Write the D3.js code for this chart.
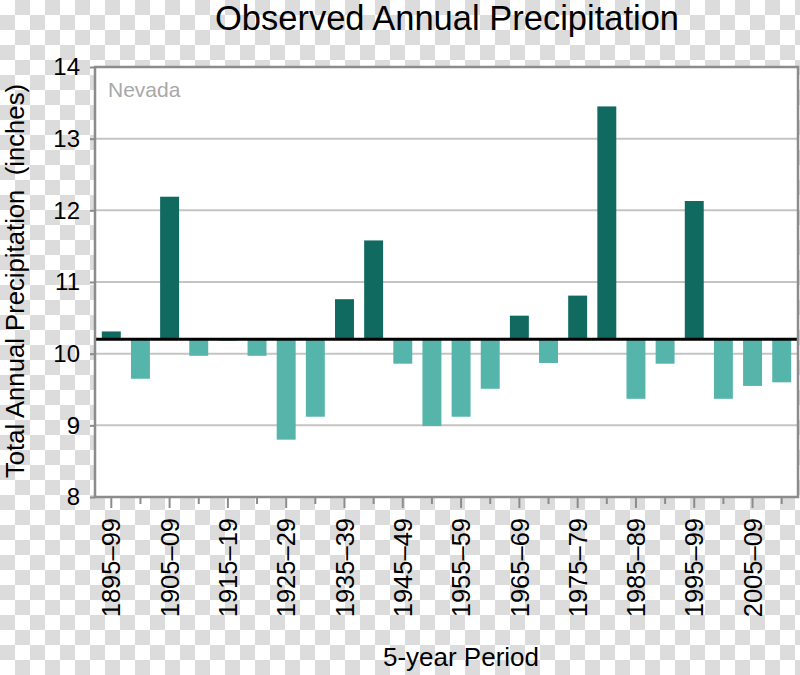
<!DOCTYPE html>
<html>
<head>
<meta charset="utf-8">
<script src="https://cdn.jsdelivr.net/npm/d3@7"></script>
<style>
  html, body { margin: 0; padding: 0; background: #fff; }
  svg { display: block; font-family: "Liberation Sans", Arial, sans-serif; }
  svg text { font-family: "Liberation Sans", Arial, sans-serif; }
</style>
</head>
<body>
<svg id="chart" width="800" height="675"></svg>
<script>
// ---- data ----
const periods = ["1895–99","1900–04","1905–09","1910–14","1915–19","1920–24","1925–29","1930–34",
                 "1935–39","1940–44","1945–49","1950–54","1955–59","1960–64","1965–69","1970–74",
                 "1975–79","1980–84","1985–89","1990–94","1995–99","2000–04","2005–09","2010–14"];
const precipitation = [10.31, 9.65, 12.19, 9.97, 10.18, 9.97, 8.80, 9.12,
                       10.76, 11.58, 9.86, 8.99, 9.12, 9.51, 10.53, 9.87,
                       10.81, 13.45, 9.37, 9.86, 12.13, 9.37, 9.55, 9.60];
const baselineValue = [10.2];
const yTicks = [8, 9, 10, 11, 12, 13, 14];
const labeledPeriods = periods.filter((d, i) => i % 2 === 0);
const titleText = ["Observed Annual Precipitation"];
const regionText = ["Nevada"];

// ---- layout ----
const svg = d3.select("#chart");
const W = 800, H = 675;
const plot = { left: 95, right: 798, top: 67, bottom: 497 };

// checkerboard background (transparent look)
const defs = svg.append("defs");
const pat = defs.append("pattern").attr("id", "checker")
  .attr("width", 30).attr("height", 30).attr("patternUnits", "userSpaceOnUse");
pat.append("rect").attr("width", 30).attr("height", 30).attr("fill", "#ffffff");
pat.append("rect").attr("x", 15).attr("y", 0).attr("width", 15).attr("height", 15).attr("fill", "#dcdcdc");
pat.append("rect").attr("x", 0).attr("y", 15).attr("width", 15).attr("height", 15).attr("fill", "#dcdcdc");
svg.append("rect").attr("width", W).attr("height", H).attr("fill", "url(#checker)");

const x = d3.scaleBand().domain(periods).range([96, 797]).paddingInner(0.35).paddingOuter(0.2);
const y = d3.scaleLinear().domain([8, 14]).range([plot.bottom, plot.top]);

// plot area
svg.append("rect")
  .attr("x", plot.left).attr("y", plot.top)
  .attr("width", plot.right - plot.left).attr("height", plot.bottom - plot.top)
  .attr("fill", "#ffffff");

// gridlines
svg.append("g").selectAll("line").data(yTicks.filter(t => t > 8 && t < 14)).join("line")
  .attr("x1", plot.left).attr("x2", plot.right)
  .attr("y1", d => y(d)).attr("y2", d => y(d))
  .attr("stroke", "#c4c4c4").attr("stroke-width", 2);

// bars
const base = baselineValue[0];
svg.append("g").selectAll("rect").data(precipitation).join("rect")
  .attr("x", (d, i) => x(periods[i]))
  .attr("width", x.bandwidth())
  .attr("y", d => d >= base ? y(d) : y(base))
  .attr("height", d => Math.abs(y(d) - y(base)))
  .attr("fill", d => d >= base ? "#116a5f" : "#56b5aa");

// baseline
svg.append("line")
  .attr("x1", plot.left).attr("x2", plot.right)
  .attr("y1", y(base)).attr("y2", y(base))
  .attr("stroke", "#000").attr("stroke-width", 3);

// frame
svg.append("rect")
  .attr("x", plot.left).attr("y", plot.top)
  .attr("width", plot.right - plot.left).attr("height", plot.bottom - plot.top)
  .attr("fill", "none").attr("stroke", "#8c8c8c").attr("stroke-width", 2.5);

// y axis
const yAxis = svg.append("g").attr("transform", `translate(${plot.left},0)`)
  .call(d3.axisLeft(y).tickValues(yTicks).tickSize(5).tickPadding(10).tickFormat(d3.format("d")));
yAxis.select(".domain").remove();
yAxis.selectAll(".tick line").attr("stroke", "#8c8c8c").attr("stroke-width", 2);
yAxis.selectAll(".tick text").attr("font-size", 24).attr("fill", "#000")
  .attr("font-family", "'Liberation Sans', Arial, sans-serif");

// x axis
const xAxis = svg.append("g").attr("transform", `translate(0,${plot.bottom})`)
  .call(d3.axisBottom(x).tickSize(11).tickPadding(0)
    .tickFormat(d => labeledPeriods.includes(d) ? d : ""));
xAxis.select(".domain").remove();
xAxis.selectAll(".tick line")
  .attr("y2", d => labeledPeriods.includes(d) ? 11 : 7)
  .attr("stroke", "#8c8c8c").attr("stroke-width", 2);
xAxis.selectAll(".tick text")
  .attr("font-size", 25.5).attr("fill", "#000")
  .attr("font-family", "'Liberation Sans', Arial, sans-serif")
  .attr("text-anchor", "end")
  .attr("transform", "rotate(-90)")
  .attr("x", -21).attr("y", 0).attr("dy", "0.36em");

// texts
svg.append("text").text(titleText[0])
  .attr("x", 447).attr("y", 30).attr("text-anchor", "middle")
  .attr("font-size", 34.5).attr("fill", "#000");

svg.append("text").text(regionText[0])
  .attr("x", 108).attr("y", 97)
  .attr("font-size", 21).attr("fill", "#a8a8a8");

svg.append("text").text("Total Annual Precipitation  (inches)")
  .attr("transform", "translate(24,281) rotate(-90)")
  .attr("text-anchor", "middle").attr("font-size", 25.7).attr("fill", "#000")
  .style("white-space", "pre");

svg.append("text").text("5-year Period")
  .attr("x", 461).attr("y", 666).attr("text-anchor", "middle")
  .attr("font-size", 26).attr("fill", "#000");
</script>
</body>
</html>
